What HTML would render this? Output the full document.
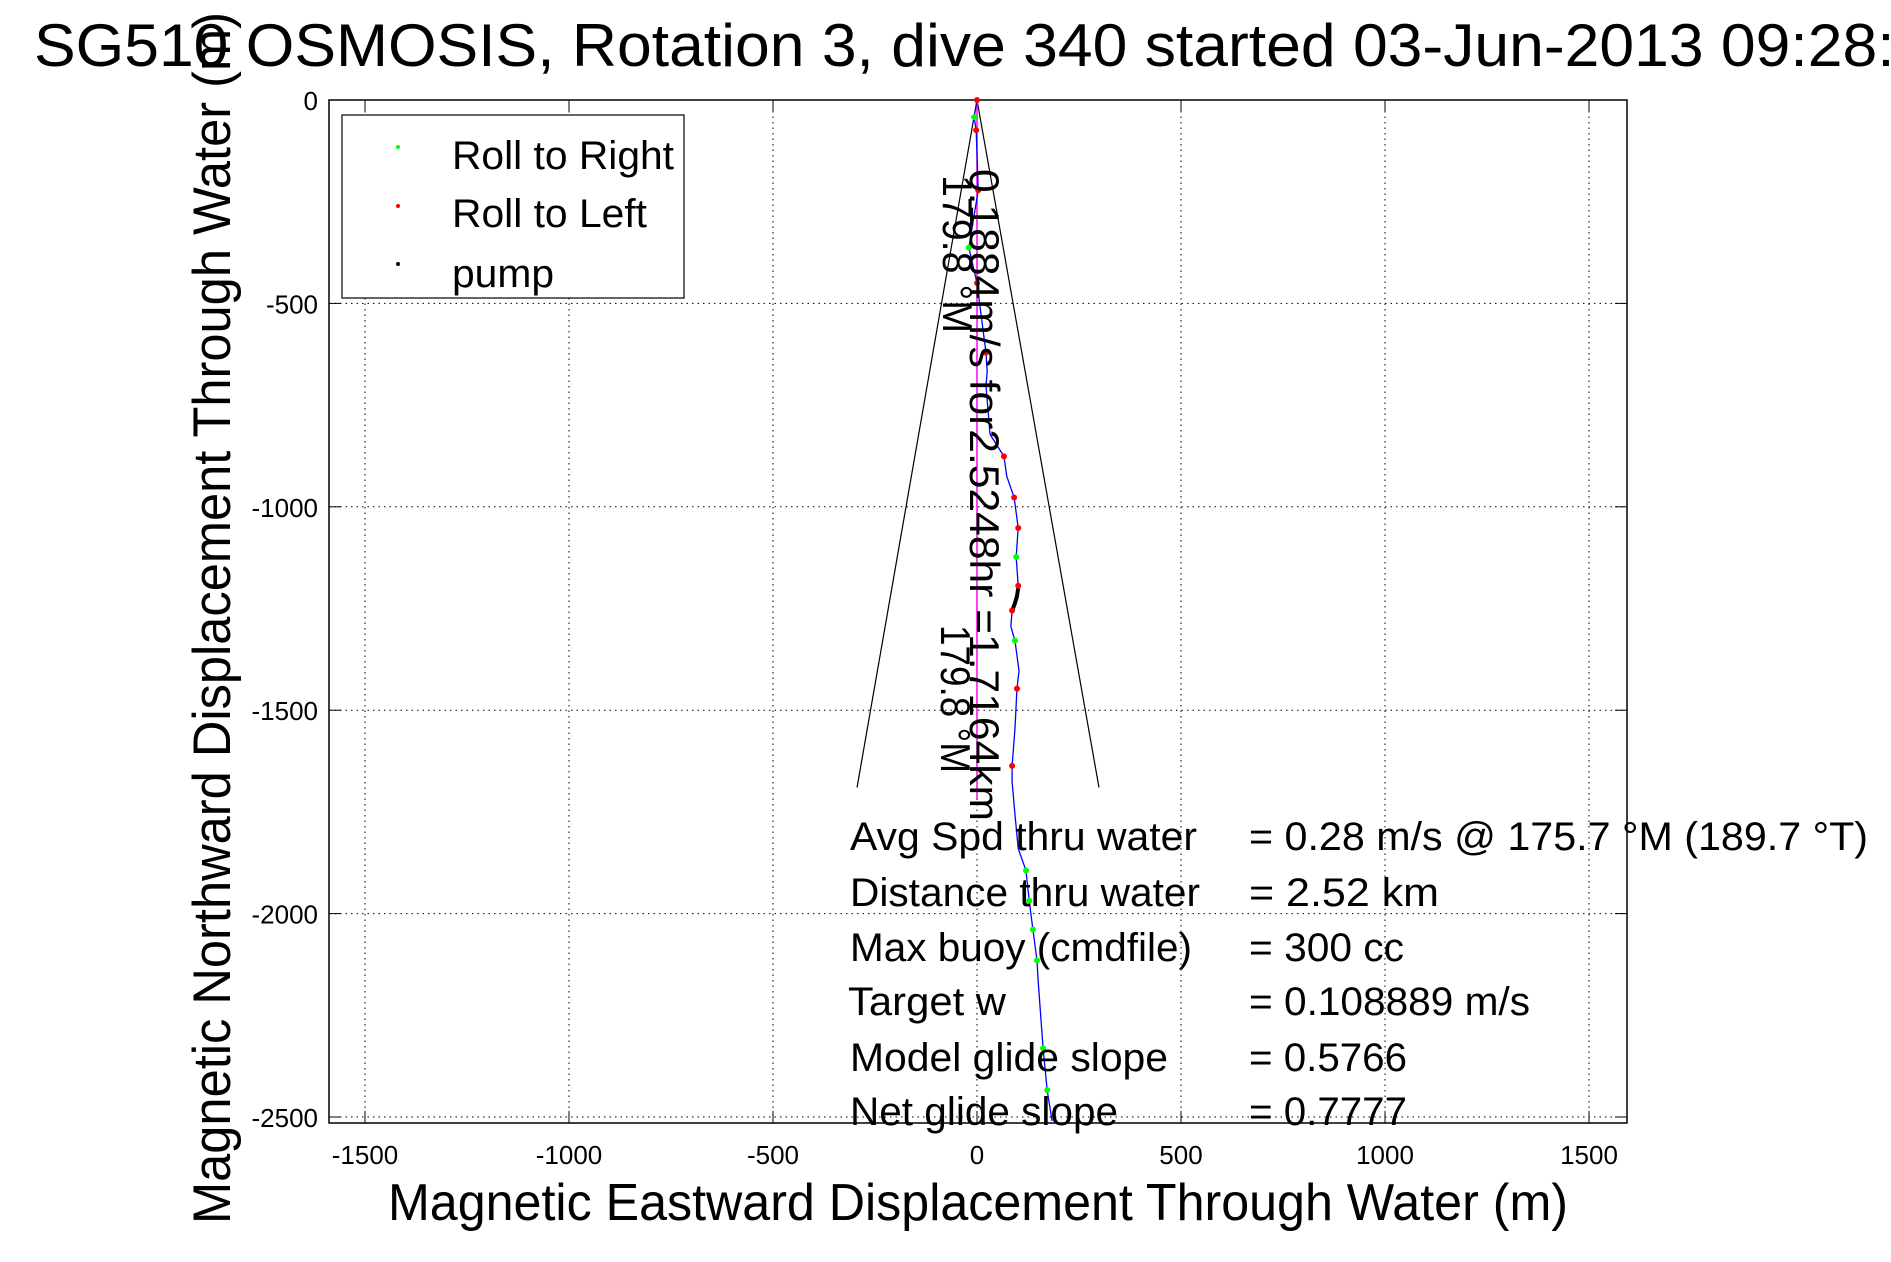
<!DOCTYPE html>
<html><head><meta charset="utf-8"><style>
html,body{margin:0;padding:0;background:#fff;}
svg{display:block;font-family:"Liberation Sans",Arial,sans-serif;}
</style></head><body>
<svg id="chart" width="1891" height="1262" viewBox="0 0 1891 1262" xmlns="http://www.w3.org/2000/svg">
<rect x="0" y="0" width="1891" height="1262" fill="#fff"/>
<text x="34" y="66" font-size="60" textLength="1930" lengthAdjust="spacingAndGlyphs">SG510 OSMOSIS, Rotation 3, dive 340 started 03-Jun-2013 09:28:24</text>
<g id="grid"></g>
<g id="axes"></g>
<g id="marks"></g>
<text transform="translate(970,169) rotate(90)" font-size="42" textLength="652" lengthAdjust="spacingAndGlyphs">0.1884m/s for2.5248hr =1.7164km</text>
<text transform="translate(943,175) rotate(90)" font-size="42" textLength="158" lengthAdjust="spacingAndGlyphs">179.8 °M</text>
<text transform="translate(941,625) rotate(90)" font-size="42" textLength="148" lengthAdjust="spacingAndGlyphs">179.8 °M</text>
<g>
<rect x="342" y="115" width="342" height="183" fill="#fff" stroke="#000" stroke-width="1.2"/>
<circle cx="398" cy="147" r="2" fill="#00ff00"/>
<text x="452" y="169" font-size="40" textLength="222" lengthAdjust="spacingAndGlyphs">Roll to Right</text>
<circle cx="398" cy="206" r="2" fill="#ff0000"/>
<text x="452" y="227" font-size="40" textLength="195" lengthAdjust="spacingAndGlyphs">Roll to Left</text>
<circle cx="398" cy="264" r="2" fill="#000"/>
<text x="452" y="287" font-size="40" textLength="102" lengthAdjust="spacingAndGlyphs">pump</text>
</g>
<g font-size="40">
<text x="850" y="850" textLength="347" lengthAdjust="spacingAndGlyphs">Avg Spd thru water</text>
<text x="1249" y="850" textLength="619" lengthAdjust="spacingAndGlyphs">=  0.28 m/s @ 175.7 °M (189.7 °T)</text>
<text x="850" y="906" textLength="350" lengthAdjust="spacingAndGlyphs">Distance thru water</text>
<text x="1249" y="906" textLength="190" lengthAdjust="spacingAndGlyphs">=  2.52 km</text>
<text x="850" y="961" textLength="342" lengthAdjust="spacingAndGlyphs">Max buoy (cmdfile)</text>
<text x="1249" y="961" textLength="155" lengthAdjust="spacingAndGlyphs">= 300 cc</text>
<text x="848" y="1015" textLength="158" lengthAdjust="spacingAndGlyphs">Target w</text>
<text x="1249" y="1015" textLength="281" lengthAdjust="spacingAndGlyphs">= 0.108889 m/s</text>
<text x="850" y="1071" textLength="318" lengthAdjust="spacingAndGlyphs">Model glide slope</text>
<text x="1249" y="1071" textLength="158" lengthAdjust="spacingAndGlyphs">= 0.5766</text>
<text x="850" y="1125" textLength="268" lengthAdjust="spacingAndGlyphs">Net glide slope</text>
<text x="1249" y="1125" textLength="158" lengthAdjust="spacingAndGlyphs">= 0.7777</text>
</g>
<text x="388" y="1220" font-size="52" textLength="1180" lengthAdjust="spacingAndGlyphs">Magnetic Eastward Displacement Through Water (m)</text>
<text transform="translate(230,1224) rotate(-90)" font-size="53" textLength="1212" lengthAdjust="spacingAndGlyphs">Magnetic Northward Displacement Through Water (m)</text>
</svg>
<script>
const xTicks=[-1500,-1000,-500,0,500,1000,1500];
const yTicks=[0,-500,-1000,-1500,-2000,-2500];
const trackX=[0,-7,-2,3,-20,0,22,25,22,32,66,73,91,101,96,101,86,83,93,103,98,93,86,86,93,101,120,128,137,147,150,162,172,184];
const trackY=[0,-42,-74,-222,-363,-450,-621,-667,-702,-822,-876,-925,-977,-1052,-1123,-1194,-1255,-1294,-1329,-1403,-1447,-1546,-1637,-1675,-1756,-1840,-1894,-1968,-2039,-2115,-2167,-2331,-2434,-2510];
const rightX=[-7,-20,96,93,120,128,137,147,162,172];
const rightY=[-42,-363,-1123,-1329,-1894,-1968,-2039,-2115,-2331,-2434];
const leftX=[0,-2,3,0,22,66,91,101,101,86,98,86];
const leftY=[0,-74,-222,-450,-621,-876,-977,-1052,-1194,-1255,-1447,-1637];
const pumpX=[101,98,92,88,86];
const pumpY=[-1200,-1220,-1240,-1250,-1258];
const coneX=[-294,0,299];
const coneY=[-1690,0,-1690];
const headingX=[0,0];
const headingY=[0,-1717];
const L=329,R=1627,T=100,B=1123;
function sx(v){return 977+v*0.408;}
function sy(v){return 100-v*0.4068;}
const NS='http://www.w3.org/2000/svg';
function mk(parent,tag,attrs){const e=document.createElementNS(NS,tag);for(const k in attrs)e.setAttribute(k,attrs[k]);parent.appendChild(e);return e;}
const grid=document.getElementById('grid'),axes=document.getElementById('axes'),marks=document.getElementById('marks');
xTicks.forEach(v=>{
  const g=mk(grid,'line',{x1:sx(v),x2:sx(v),y1:T,y2:B,stroke:'#000','stroke-width':1,'stroke-dasharray':'1.5 4'});
  
  
  mk(axes,'line',{x1:sx(v),x2:sx(v),y1:B,y2:B-12,stroke:'#000','stroke-width':1});
  mk(axes,'line',{x1:sx(v),x2:sx(v),y1:T,y2:T+12,stroke:'#000','stroke-width':1});
  const t=mk(axes,'text',{x:sx(v),y:1164,'font-size':26,'text-anchor':'middle'});
  t.textContent=v;
  
  
});
yTicks.forEach(v=>{
  const g=mk(grid,'line',{x1:L,x2:R,y1:sy(v),y2:sy(v),stroke:'#000','stroke-width':1,'stroke-dasharray':'1.5 4'});
  
  
  mk(axes,'line',{x1:L,x2:L+12,y1:sy(v),y2:sy(v),stroke:'#000','stroke-width':1});
  mk(axes,'line',{x1:R,x2:R-12,y1:sy(v),y2:sy(v),stroke:'#000','stroke-width':1});
  const t=mk(axes,'text',{x:318,y:sy(v)+10,'font-size':26,'text-anchor':'end'});
  t.textContent=v;
  
  
});
const frame=mk(axes,'rect',{x:L,y:T,width:R-L,height:B-T,fill:'none',stroke:'#000','stroke-width':1.5});


function pts(xs,ys){return xs.map((x,i)=>sx(x)+','+sy(ys[i])).join(' ');}
const cone=mk(marks,'polyline',{points:pts(coneX,coneY),fill:'none',stroke:'#000','stroke-width':1.2});


const hd=mk(marks,'polyline',{points:pts(headingX,headingY),fill:'none',stroke:'#ff00ff','stroke-width':1.5});


const tr=mk(marks,'polyline',{points:pts(trackX,trackY),fill:'none',stroke:'#0000ff','stroke-width':1.3});


const pm=mk(marks,'polyline',{points:pts(pumpX,pumpY),fill:'none',stroke:'#000','stroke-width':4});


rightX.forEach((x,i)=>{
  const c=mk(marks,'circle',{cx:sx(x),cy:sy(rightY[i]),r:3,fill:'#00ff00'});
  
  
});
leftX.forEach((x,i)=>{
  const c=mk(marks,'circle',{cx:sx(x),cy:sy(leftY[i]),r:3,fill:'#ff0000'});
  
  
});
</script>
</body></html>
